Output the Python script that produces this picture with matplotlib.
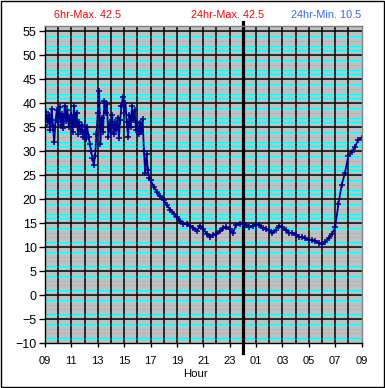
import numpy as np
import matplotlib
matplotlib.use("Agg")
import matplotlib.pyplot as plt
from matplotlib.patches import Rectangle

plt.rcParams['font.family'] = ['Liberation Sans', 'DejaVu Sans']

# temperature readings, 09:00 - 17:00 every 6 minutes (noisy daytime part)
day_temps = [
    35.5, 38.2, 36.0, 37.5, 34.5, 38.8, 35.2, 32.0, 36.5, 38.5,   # 09
    36.0, 39.2, 35.5, 37.8, 34.8, 39.5, 36.2, 38.5, 35.0, 37.0,   # 10
    37.5, 34.0, 39.5, 35.5, 38.0, 33.5, 36.0, 34.0, 35.5, 33.0,   # 11
    34.5, 32.5, 35.0, 33.0, 31.5, 30.0, 28.5, 27.2, 29.0, 33.5,   # 12
    38.0, 42.5, 31.5, 37.0, 34.0, 40.5, 38.0, 39.8, 33.0, 36.0,   # 13
    34.0, 37.5, 33.5, 36.0, 34.5, 37.0, 32.8, 36.5, 39.5, 41.2,   # 14
    38.0, 40.0, 36.0, 33.0, 37.5, 35.0, 39.5, 36.5, 38.5, 34.5,   # 15
    36.0, 33.5, 35.8, 34.0, 36.8, 30.0, 25.5, 29.5, 26.0, 24.5,   # 16
]

# 17:00 - 09:00 every 15 minutes
night_temps = [
    24.0, 22.6, 21.4, 20.7,   # 17
    19.8, 18.8, 17.8, 17.0,   # 18
    16.3, 15.4, 14.9, 14.8,   # 19
    14.5, 14.0, 13.4, 14.4,   # 20
    13.8, 12.8, 12.2, 12.5,   # 21
    12.7, 13.3, 13.9, 14.1,   # 22
    13.8, 12.9, 14.7, 14.8,   # 23
    14.8, 14.6, 14.1, 14.5,   # 00
    14.8, 14.6, 13.9, 13.8,   # 01
    13.5, 12.9, 13.6, 14.4,   # 02
    14.1, 13.5, 13.0, 12.9,   # 03
    12.6, 12.1, 12.0, 11.8,   # 04
    11.5, 11.4, 11.2, 10.9,   # 05
    10.6, 11.1, 11.8, 12.7,   # 06
    14.1, 19.0, 23.0, 25.5,   # 07
    29.0, 29.8, 30.9, 32.3,   # 08
    32.8,                     # 09
]

hour_labels = ['09', '11', '13', '15', '17', '19', '21', '23',
               '01', '03', '05', '07', '09']
header_left = "6hr-Max. 42.5"
header_mid = "24hr-Max. 42.5"
header_right = "24hr-Min. 10.5"

# hours since 09:00
t_day = np.arange(len(day_temps)) * 0.1
t_night = 8 + np.arange(len(night_temps)) * 0.25
t = np.concatenate([t_day, t_night])
temps = np.array(day_temps + night_temps)

fig = plt.figure(figsize=(3.85, 3.88), dpi=100)
ax = fig.add_axes([45 / 385, 45 / 388, 316.5 / 385, 317 / 388])
ax.set_facecolor('#c0c0c0')

# grid: cyan every degree, black every 5, black every hour
for v in range(-10, 57):
    if v % 5 != 0:
        ax.axhline(v, color='#00ffff', lw=0.72, zorder=1)
for v in range(-5, 56, 5):
    ax.axhline(v, color='black', lw=1.1, zorder=2)
for h in range(1, 24):
    ax.axvline(h, color='black', lw=1.1, zorder=2)

# midnight marker
ax.axvline(15, ymin=-0.032, ymax=1.013, color='black', lw=2.3,
           clip_on=False, zorder=3)

ax.plot(t, temps, color='#000090', lw=1.3, marker='+', ms=5, mew=1.1,
        zorder=4)

ax.set_xlim(0, 24)
ax.set_ylim(-10, 56.1)
ax.set_yticks(range(-10, 56, 5))
ax.set_xticks(range(0, 25, 2))
ax.set_xticklabels(hour_labels)
ax.tick_params(axis='y', length=4.5, width=1, labelsize=9, pad=1.5)
ax.tick_params(axis='x', length=3, width=1, labelsize=8, pad=6)

for s in ['top', 'right']:
    ax.spines[s].set_color('#808080')
for s in ['left', 'bottom']:
    ax.spines[s].set_color('black')
for s in ax.spines.values():
    s.set_linewidth(1)
    s.set_zorder(5)

fig.text(88 / 385, 1 - 15 / 388, header_left, color='#ff0000',
         fontsize=7.8, ha='center', va='center')
fig.text(228 / 385, 1 - 15 / 388, header_mid, color='#ff0000',
         fontsize=7.8, ha='center', va='center')
fig.text(326 / 385, 1 - 15 / 388, header_right, color='#3366ff',
         fontsize=7.8, ha='center', va='center')
fig.text(195 / 385, 1 - 374 / 388, "Hour", fontsize=8.2,
         ha='center', va='center')

# outer border of the picture
fig.patches.append(Rectangle((0.0013, 0.0013), 0.9974, 0.9974,
                             transform=fig.transFigure, fill=False,
                             edgecolor='black', lw=1))

fig.savefig("out.png", dpi=100)
